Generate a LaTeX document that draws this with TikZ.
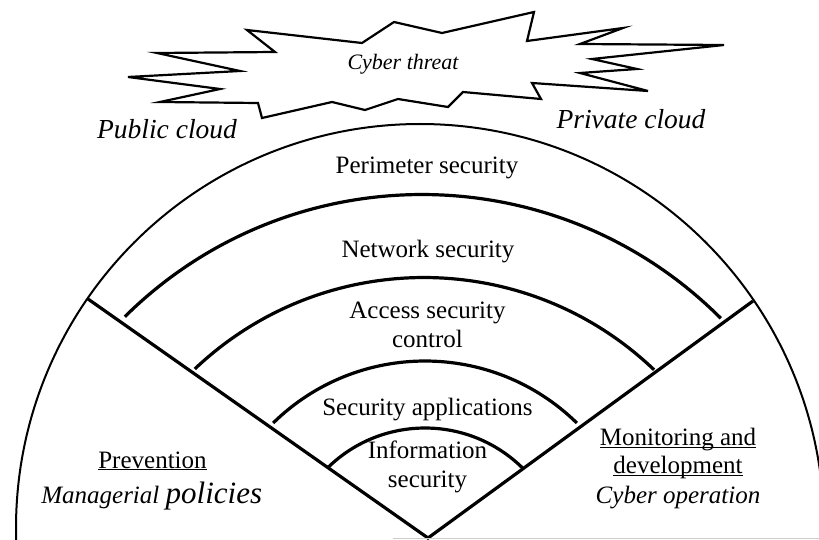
\documentclass[tikz,border=0pt]{standalone}
\usepackage{fontspec}
\setmainfont{Liberation Serif}
\newcommand{\ulword}[1]{\underline{\smash{#1}}}
\begin{document}
\begin{tikzpicture}[x=1pt,y=1pt,
  lbl/.style={inner sep=0pt, anchor=base, font=\fontsize{25}{29}\selectfont},
  lblit/.style={lbl, font=\fontsize{25}{29}\selectfont\itshape},
  cloudlbl/.style={inner sep=0pt, anchor=base, font=\fontsize{27.5}{32}\selectfont\itshape},
  layerarc/.style={line width=3.2pt},
  wedge/.style={line width=3.2pt, line join=miter},
  rim/.style={line width=2pt},
  burst/.style={line width=2.2pt, line join=miter, fill=white}]

\useasboundingbox (0,0) rectangle (819,539);

% outer boundary circle, cut off by the page edge
\coordinate (oc) at (420,11);
\begin{scope}
  \clip (0,0) rectangle (819,539);
  \draw[rim] (oc) circle[radius=404];
\end{scope}

% the two dividing lines meeting at the bottom
\coordinate (apex) at (428,1);
\coordinate (vl) at (88,240);
\coordinate (vr) at (753,238);
\draw[wedge] (vl) -- (apex) -- (vr);

% nested layer arcs
\coordinate (c1) at (422,-78);
\coordinate (c2) at (424,-71.5);
\coordinate (c3) at (425,-39);
\coordinate (c4) at (425,-28);
\draw[layerarc] ([shift={(45:422.5)}]c1) arc[start angle=45, end angle=134.7, radius=422.5];
\draw[layerarc] ([shift={(46.3:333)}]c2) arc[start angle=46.3, end angle=133.5, radius=333];
\draw[layerarc] ([shift={(45.6:217)}]c3) arc[start angle=45.6, end angle=134.4, radius=217];
\draw[layerarc] ([shift={(45.2:139)}]c4) arc[start angle=45.2, end angle=134.2, radius=139];

% threat burst
\draw[burst] (128,462) -- (240,468) -- (157,486) -- (275,487) -- (247,509)
  -- (362,496) -- (394,517) -- (442,506) -- (534,527) -- (527,498)
  -- (623,511) -- (580,495) -- (724,494) -- (592,480) -- (637,470)
  -- (580,466) -- (648,448) -- (532,456) -- (541,440) -- (463,447)
  -- (448,432) -- (398,440) -- (365,429) -- (332,437) -- (262,421)
  -- (258,436) -- (160,437) -- (220,450) -- cycle;

% faint rule along the bottom edge
\coordinate (bl) at (393,0.6);
\coordinate (br) at (819,0.6);
\draw[gray!40, line width=1.1pt] (bl) -- (br);

% labels
\node[inner sep=0pt, anchor=base, font=\fontsize{22}{26}\selectfont\itshape] (threat) at (403,469) {Cyber threat};
\node[cloudlbl] (pub) at (167,400) {Public cloud};
\node[cloudlbl] (priv) at (631,410) {Private cloud};

\node[lbl] (perim) at (427,365) {Perimeter security};
\node[lbl] (net) at (428,282) {Network security};
\node[lbl] (acc1) at (427.5,221) {Access security};
\node[lbl] (acc2) at (427.5,192) {control};
\node[lbl] (app) at (427.5,124) {Security applications};
\node[lbl] (info1) at (427.5,81) {Information};
\node[lbl] (info2) at (427.5,51.5) {security};

\node[lbl] (prev) at (152.5,71) {\ulword{Prevention}};
\node[lbl] (mgmt) at (151.7,36) {\itshape Managerial {\fontsize{31}{35}\selectfont policies}};

\node[lbl] (mon1) at (678,93.5) {\ulword{Monitoring and}};
\node[lbl] (mon2) at (678,65.5) {\ulword{development}};
\node[lblit] (mon3) at (678,35.5) {Cyber operation};
\end{tikzpicture}
\end{document}
